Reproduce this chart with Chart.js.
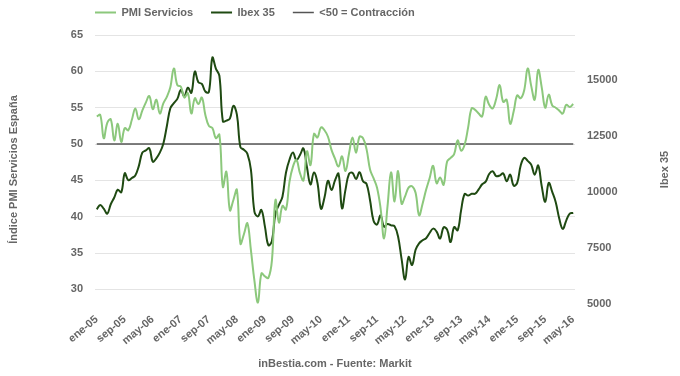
<!DOCTYPE html>
<html>
<head>
<meta charset="utf-8">
<script src="https://cdn.jsdelivr.net/npm/chart.js@4.4.1/dist/chart.umd.min.js"></script>
<style>
  html, body { margin: 0; padding: 0; background: #fff; }
</style>
</head>
<body>
<canvas id="chart1" width="680" height="376"></canvas>
<script>
// etiquetas mensuales ene-05 ... may-16
const meses = ['ene', 'feb', 'mar', 'abr', 'may', 'jun', 'jul', 'ago', 'sep', 'oct', 'nov', 'dic'];
const anios = ['05', '06', '07', '08', '09', '10', '11', '12', '13', '14', '15', '16'];
const mesesUltimoAnio = 5;

// PMI Servicios España (eje izquierdo)
const pmi = [
  53.8, 54.0, 50.8, 52.9, 53.4, 50.5, 52.8, 50.3, 52.2, 51.9, 53.3, 54.9, // 2005
  53.4, 54.6, 55.7, 56.6, 54.8, 56.1, 54.2, 55.6, 56.5, 57.8, 60.4, 58.1, // 2006
  57.9, 56.4, 57.0, 54.2, 56.3, 55.5, 56.4, 54.0, 52.5, 52.2, 50.8, 51.3, // 2007
  44.1, 46.2, 40.9, 42.3, 43.7, 36.3, 37.6, 39.1, 35.4, 31.2, 28.2, 32.2, // 2008
  31.8, 31.6, 34.0, 42.3, 39.2, 41.5, 41.0, 44.8, 46.9, 47.8, 46.0, 45.0, // 2009
  49.0, 47.1, 51.4, 50.9, 52.3, 51.9, 51.0, 49.2, 48.0, 46.9, 48.3, 46.3, // 2010
  48.7, 50.9, 48.8, 51.0, 50.8, 49.3, 46.5, 45.3, 44.0, 41.2, 37.0, 41.5, // 2011
  46.1, 42.1, 46.3, 41.8, 42.8, 44.0, 44.2, 43.3, 40.2, 41.8, 43.7, 45.3, // 2012
  47.0, 44.6, 45.4, 44.4, 47.6, 48.1, 48.6, 50.5, 49.1, 49.9, 52.3, 54.9, // 2013
  54.7, 54.2, 53.8, 56.5, 55.4, 54.9, 56.2, 58.1, 55.8, 56.1, 52.8, 54.5, // 2014
  56.7, 56.3, 57.4, 60.4, 58.0, 56.1, 60.2, 57.8, 55.0, 56.8, 55.3, 55.0, // 2015
  54.6, 54.2, 55.4, 55.1, 55.5                                            // 2016
];

// Ibex 35 (eje derecho)
const ibex = [
  9223, 9420, 9250, 9030, 9450, 9750, 10100, 9980, 10830, 10520, 10620, 10734,
  11150, 11750, 11850, 11950, 11350, 11500, 11750, 12150, 12930, 13730, 13960, 14150,
  14553, 14260, 14650, 14420, 15370, 14890, 14820, 14480, 14450, 15990, 15500, 15182,
  13150, 13180, 13270, 13840, 13450, 12000, 11880, 11700, 10990, 9120, 8910, 9196,
  8450, 7620, 7815, 9040, 9424, 9787, 10855, 11436, 11756, 11414, 11645, 11940,
  11100, 10333, 10871, 10400, 9250, 9750, 10499, 10087, 10514, 10812, 9267, 10100,
  10806, 10850, 10576, 10878, 10476, 10359, 9630, 8718, 8546, 8955, 8449, 8566,
  8509, 8465, 8008, 7011, 6089, 7102, 6738, 7420, 7708, 7843, 7934, 8168,
  8362, 8230, 7920, 8419, 8320, 7763, 8433, 8290, 9186, 9908, 9837, 9917,
  9920, 10114, 10340, 10459, 10798, 10923, 10708, 10729, 10826, 10478, 10770, 10280,
  10403, 11178, 11521, 11385, 11218, 10770, 11181, 10259, 9559, 10400, 10000, 9544,
  8815, 8350, 8723, 9030, 9060
];

const nivelContraccion = 50;
const ticksIbex = [5000, 7500, 10000, 12500, 15000];

var labels = [];
anios.forEach(function (a, k) {
  var n = k === anios.length - 1 ? mesesUltimoAnio : 12;
  for (var m = 0; m < n; m++) labels.push(meses[m] + '-' + a);
});

const fuente = "'Liberation Sans', Arial, sans-serif";
Chart.defaults.font.family = fuente;
Chart.defaults.font.size = 11;
Chart.defaults.font.weight = 'bold';
Chart.defaults.color = '#666';

// titulo del eje derecho, de abajo hacia arriba como en el original
const tituloDerecho = {
  id: 'tituloDerecho',
  afterDraw(chart) {
    const ctx = chart.ctx;
    const area = chart.chartArea;
    ctx.save();
    ctx.translate(chart.width - 15, (area.top + area.bottom) / 2);
    ctx.rotate(-Math.PI / 2);
    ctx.font = 'bold 11px ' + fuente;
    ctx.fillStyle = '#666';
    ctx.textAlign = 'center';
    ctx.textBaseline = 'middle';
    ctx.fillText('Ibex 35', 0, 0);
    ctx.restore();
  }
};

// leyenda alineada con el borde izquierdo del area del grafico
const ajusteLeyenda = {
  id: 'ajusteLeyenda',
  afterLayout(chart) {
    chart.legend.left = chart.chartArea.left - 18;
    chart.legend.top = -11;
  }
};

var ctx = document.getElementById('chart1').getContext('2d');
new Chart(ctx, {
  type: 'line',
  data: {
    labels: labels,
    datasets: [
      {
        label: 'PMI Servicios',
        data: pmi,
        yAxisID: 'y',
        borderColor: '#8cc87c',
        backgroundColor: '#8cc87c',
        borderWidth: 2,
        pointRadius: 0,
        tension: 0.4,
        fill: false,
      },
      {
        label: 'Ibex 35',
        data: ibex,
        yAxisID: 'y1',
        borderColor: '#1f4a12',
        backgroundColor: '#1f4a12',
        borderWidth: 2,
        pointRadius: 0,
        tension: 0.4,
        fill: false,
      },
      {
        label: '<50 = Contracción',
        data: labels.map(function () { return nivelContraccion; }),
        yAxisID: 'y',
        borderColor: '#555',
        backgroundColor: '#555',
        borderWidth: 1.5,
        pointRadius: 0,
        tension: 0,
        fill: false,
      },
    ],
  },
  options: {
    responsive: false,
    animation: false,
    layout: { padding: 0 },
    plugins: {
      legend: {
        position: 'top',
        align: 'start',
        fullSize: false,
        maxHeight: 35,
        labels: {
          boxWidth: 21,
          boxHeight: 0,
          padding: 18,
          color: '#666',
          font: { size: 11, weight: 'bold' },
        },
      },
      tooltip: { enabled: false },
    },
    scales: {
      x: {
        offset: true,
        grid: { display: false, drawTicks: false },
        border: { display: false },
        ticks: {
          autoSkip: false,
          minRotation: 40,
          maxRotation: 40,
          padding: 9,
          callback: function (v, i) {
            return i % 8 === 0 ? labels[i] : null;
          },
        },
        title: {
          display: true,
          text: 'inBestia.com - Fuente: Markit',
          padding: { top: 4, bottom: 5 },
        },
        afterFit: function (s) { s.height = 72; },
      },
      y: {
        position: 'left',
        min: 28,
        max: 65,
        grid: { color: '#e4e4e4', drawTicks: false },
        border: { display: false },
        ticks: { stepSize: 5, includeBounds: false, padding: 12 },
        title: {
          display: true,
          text: 'Índice PMI Servicios España',
          padding: { top: 7, bottom: 0 },
        },
        afterFit: function (s) { s.width = 95; },
      },
      y1: {
        position: 'right',
        min: 5000,
        max: 17000,
        grid: { display: false, drawTicks: false },
        border: { display: false },
        ticks: {
          padding: 12,
          callback: function (v) { return String(v); },
        },
        afterBuildTicks: function (s) {
          s.ticks = ticksIbex.map(function (v) { return { value: v }; });
        },
        afterFit: function (s) { s.width = 105; },
      },
    },
  },
  plugins: [tituloDerecho, ajusteLeyenda],
});
</script>
</body>
</html>
